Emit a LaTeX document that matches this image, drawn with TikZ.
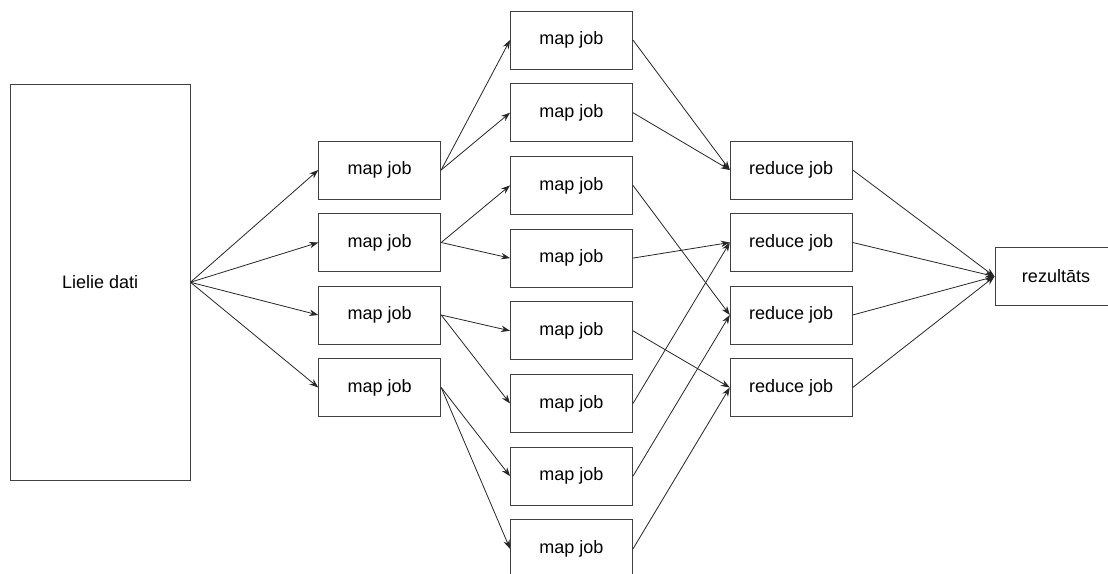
\documentclass[tikz,border=0pt]{standalone}
\usepackage{fontspec}
\setmainfont{Liberation Sans}
\usetikzlibrary{arrows.meta}
\begin{document}
\begin{tikzpicture}[x=1pt,y=-1pt,
  box/.style={draw=black!75, line width=0.9pt, fill=white, rectangle, inner sep=0pt,
    minimum width=122pt, minimum height=58pt, font=\fontsize{18}{20}\selectfont},
  link/.style={draw=black!85, line width=0.8pt, -{Stealth[length=9pt,width=6.5pt]}}]
\useasboundingbox (0,0) rectangle (1108,573);
\clip (0,0) rectangle (1108,573);

% input data
\node[box, minimum width=179.5pt, minimum height=395.5pt] (data) at (100.25,282.25) {Lielie dati};

% first map stage
\foreach \i in {1,...,4}
  \node[box] (a\i) at (379.75,{170+72.5*(\i-1)}) {map job};

% second map stage
\foreach \i in {1,...,8}
  \node[box] (b\i) at (571.5,{40+72.7*(\i-1)}) {map job};

% reduce stage
\foreach \i in {1,...,4}
  \node[box] (r\i) at (791.25,{170+72.5*(\i-1)}) {reduce job};

% output
\node[box] (res) at (1056,276.5) {rezultāts};

% connectors
\foreach \i in {1,...,4}
  \draw[link] (data.east) -- (a\i.west);

\draw[link] (a1.east) -- (b1.west);
\draw[link] (a1.east) -- (b2.west);
\draw[link] (a2.east) -- (b3.west);
\draw[link] (a2.east) -- (b4.west);
\draw[link] (a3.east) -- (b5.west);
\draw[link] (a3.east) -- (b6.west);
\draw[link] (a4.east) -- (b7.west);
\draw[link] (a4.east) -- (b8.west);

\draw[link] (b1.east) -- (r1.west);
\draw[link] (b2.east) -- (r1.west);
\draw[link] (b3.east) -- (r3.west);
\draw[link] (b4.east) -- (r2.west);
\draw[link] (b5.east) -- (r4.west);
\draw[link] (b6.east) -- (r2.west);
\draw[link] (b7.east) -- (r3.west);
\draw[link] (b8.east) -- (r4.west);

\foreach \i in {1,...,4}
  \draw[link] (r\i.east) -- (res.west);
\end{tikzpicture}
\end{document}
